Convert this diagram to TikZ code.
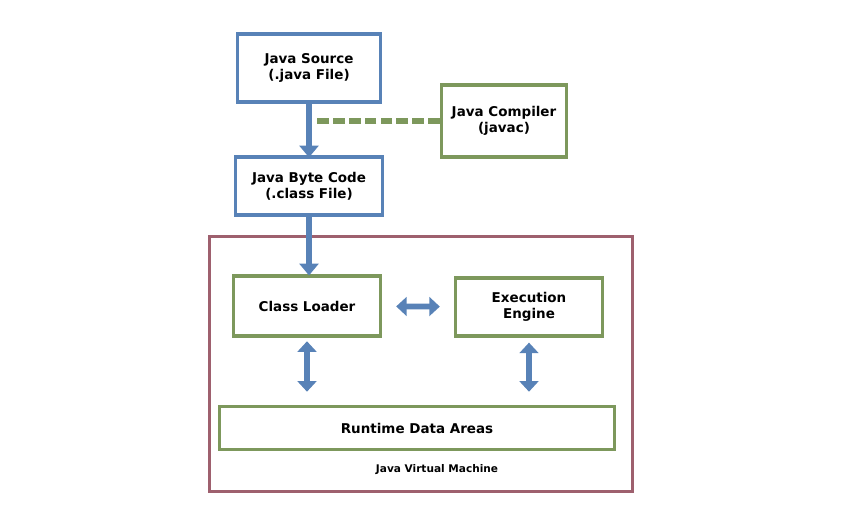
\documentclass[tikz,border=0pt]{standalone}
\usepackage{fontspec}
\setmainfont{DejaVu Sans}
\usetikzlibrary{positioning, arrows.meta}

\definecolor{jblue}{RGB}{88,130,183}
\definecolor{jgreen}{RGB}{125,152,92}
\definecolor{jmaroon}{RGB}{158,96,110}

\begin{document}
\begin{tikzpicture}[
                x=0.03cm, y=-0.03cm,
                box/.style={rectangle, draw, line width=3pt, align=center, inner sep=2pt, font=\bfseries\fontsize{11.5}{14}\selectfont},
                srcbox/.style={box, draw=jblue, minimum width=4.3cm, minimum height=2.05cm},
                grbox/.style={box, draw=jgreen},
                arr/.style={-{Triangle[width=16pt, length=10pt]}, line width=5pt, draw=jblue},
                dbl/.style={{Triangle[width=16pt, length=9pt]}-{Triangle[width=16pt, length=9pt]}, line width=5pt, draw=jblue}
            ]
            \useasboundingbox (0,0) rectangle (846,519);
            \node[srcbox, minimum height=2.05cm] (src) at (309,68) {Java Source\\ (.java File)};
            \node[srcbox, minimum width=4.4cm, minimum height=1.75cm] (byte) at (309,186) {Java Byte Code\\ (.class File)};
            \node[grbox, minimum width=3.75cm, minimum height=2.15cm] (comp) at (504,121) {Java Compiler\\ (javac)};
            \node[rectangle, draw=jmaroon, line width=3pt, minimum width=12.7cm, minimum height=7.65cm] (jvm) at (421,364) {};
            \node[grbox, minimum width=4.4cm, minimum height=1.8cm] (loader) at (307,306) {Class Loader};
            \node[grbox, minimum width=4.4cm, minimum height=1.75cm] (engine) at (529,307) {Execution\\ Engine};
            \node[grbox, minimum width=11.85cm, minimum height=1.3cm] (rda) at (417,428) {Runtime Data Areas};
            \node[font=\bfseries\fontsize{9}{11}\selectfont] (jvmlbl) at (437,470) {Java Virtual Machine};
            \draw[arr, shorten >=-2pt] (src) -- (byte);
            \draw[arr, shorten >=-1pt] (byte.south) -- (byte.south |- loader.north);
            \draw[draw=jgreen, line width=5pt, dash pattern=on 10pt off 3.5pt, shorten >=6pt] (comp.west) -- (comp.west -| src.south);
            \draw[dbl, shorten <=12pt, shorten >=12pt] (loader) -- (engine);
            \draw[dbl, shorten <=3pt, shorten >=11pt] (loader.south) -- (loader.south |- rda.north);
            \draw[dbl, shorten <=4pt, shorten >=11pt] (engine.south) -- (engine.south |- rda.north);
        \end{tikzpicture}
\end{document}
